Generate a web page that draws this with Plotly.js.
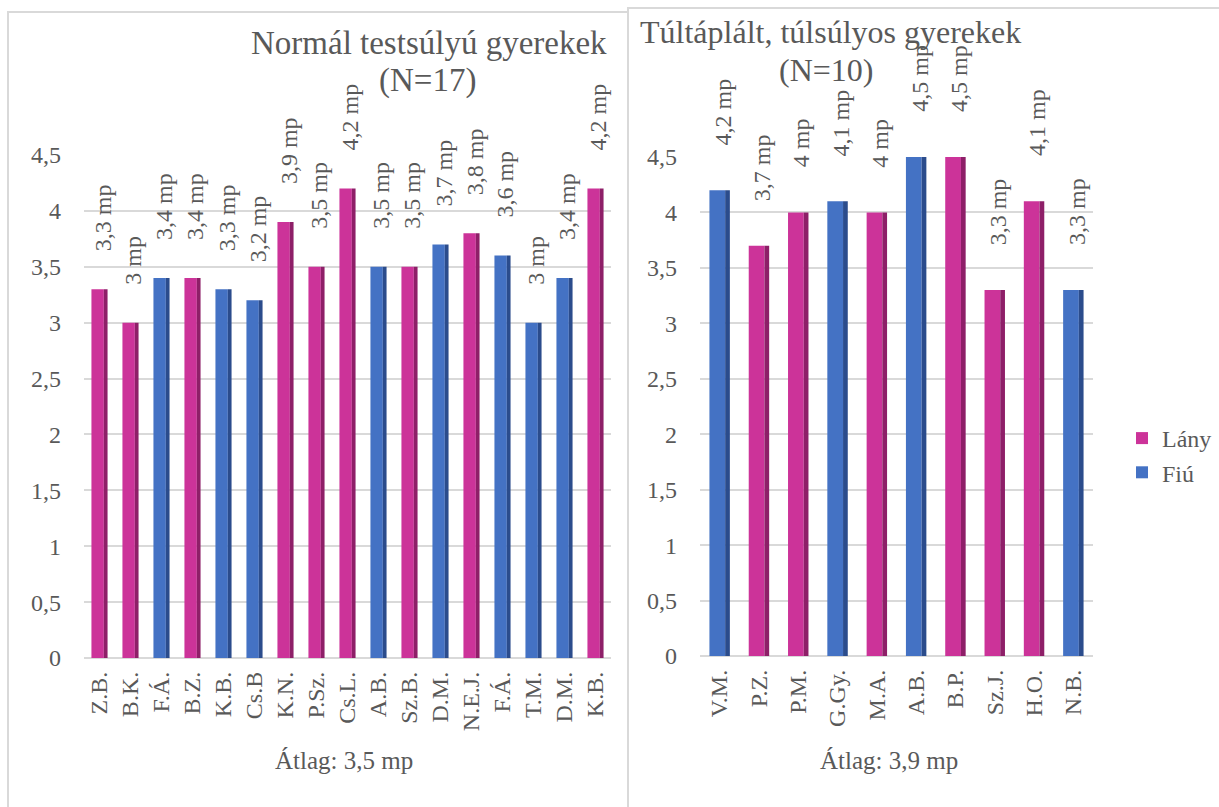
<!DOCTYPE html>
<html>
<head>
<meta charset="utf-8">
<script src="https://cdn.plot.ly/plotly-3.0.1.min.js"></script>
<style>html,body{margin:0;padding:0;background:#fff;}#chart{width:1219px;height:807px;}</style>
</head>
<body>
<div id="chart"></div>
<script>
const leftNames = ['Z.B.','B.K.','F.Á.','B.Z.','K.B.','Cs.B','K.N.','P.Sz.','Cs.L.','A.B.','Sz.B.','D.M.','N.E.J.','F.Á.','T.M.','D.M.','K.B.'];
const leftValues = [3.3,3.0,3.4,3.4,3.3,3.2,3.9,3.5,4.2,3.5,3.5,3.7,3.8,3.6,3.0,3.4,4.2];
const leftGender = ['Lány','Lány','Fiú','Lány','Fiú','Fiú','Lány','Lány','Lány','Fiú','Lány','Fiú','Lány','Fiú','Fiú','Fiú','Lány'];

const rightNames = ['V.M.','P.Z.','P.M.','G.Gy.','M.A.','A.B.','B.P.','Sz.J.','H.O.','N.B.'];
const rightValues = [4.2,3.7,4.0,4.1,4.0,4.5,4.5,3.3,4.1,3.3];
const rightGender = ['Fiú','Lány','Lány','Fiú','Lány','Fiú','Lány','Lány','Lány','Fiú'];

const leftTitle = ['Normál testsúlyú gyerekek', '(N=17)'];
const rightTitle = ['Túltáplált, túlsúlyos gyerekek', '(N=10)'];
const leftAvg = 'Átlag: 3,5 mp';
const rightAvg = 'Átlag: 3,9 mp';
const genders = ['Lány','Fiú'];

const FONT = 'Liberation Serif';
const GRAY = '#595959';
const front = {'Lány':'#CC3399','Fiú':'#4472C4'};
const side = {'Lány':'#8E1F68','Fiú':'#2B4C8C'};

const traces = [];
function addPanel(names, values, gender, xa, ya, showLegend) {
  genders.forEach(g => {
    const xs = [], ys = [];
    values.forEach((v, i) => { if (gender[i] === g) { xs.push(i); ys.push(v); } });
    traces.push({type:'bar', x:xs, y:ys, xaxis:xa, yaxis:ya, name:g, legendgroup:g,
      showlegend:showLegend, width:0.4, offset:-0.26, marker:{color:front[g]}, hoverinfo:'y'});
    traces.push({type:'bar', x:xs, y:ys, xaxis:xa, yaxis:ya, name:g, legendgroup:g,
      showlegend:false, width:0.12, offset:0.14, marker:{color:side[g]}, hoverinfo:'skip'});
  });
}
addPanel(leftNames, leftValues, leftGender, 'x', 'y', true);
addPanel(rightNames, rightValues, rightGender, 'x2', 'y2', false);

const fmt = v => String(v).replace('.', ',') + ' mp';
const annotations = [];
leftValues.forEach((v, i) => annotations.push({x:i, y:v, xref:'x', yref:'y', text:fmt(v), textangle:-90,
  showarrow:false, yanchor:'bottom', xanchor:'center', yshift:36, xshift:3, font:{family:FONT, size:24, color:GRAY}}));
rightValues.forEach((v, i) => annotations.push({x:i, y:v, xref:'x2', yref:'y2', text:fmt(v), textangle:-90,
  showarrow:false, yanchor:'bottom', xanchor:'center', yshift:43, xshift:3, font:{family:FONT, size:24, color:GRAY}}));

function titleLine(text, cx, top, size) {
  annotations.push({xref:'paper', yref:'paper', x:cx/1219, y:1-top/807, yanchor:'top', xanchor:'center',
    showarrow:false, text:text, font:{family:FONT, size:size, color:GRAY}});
}
titleLine(leftTitle[0], 429, 23, 33);
titleLine(leftTitle[1], 427, 60, 33);
titleLine(rightTitle[0], 830, 12, 32);
titleLine(rightTitle[1], 826, 50, 32);

annotations.push({xref:'paper', yref:'paper', x:344/1219, y:1-760/807, yanchor:'middle', xanchor:'center', showarrow:false,
  text:leftAvg, font:{family:FONT, size:25, color:GRAY}});
annotations.push({xref:'paper', yref:'paper', x:889/1219, y:1-760/807, yanchor:'middle', xanchor:'center', showarrow:false,
  text:rightAvg, font:{family:FONT, size:25, color:GRAY}});

const yBase = {range:[0,4.5], dtick:0.5, tick0:0, showgrid:true, gridcolor:'#D9D9D9', gridwidth:2,
  zeroline:true, zerolinecolor:'#D9D9D9', zerolinewidth:2, showline:false, ticks:'',
  ticklabelstandoff:22, tickfont:{family:FONT, size:24, color:GRAY}, fixedrange:true};
const xBase = {showgrid:false, zeroline:false, showline:false, tickangle:-90, ticks:'',
  ticklabelstandoff:8, tickfont:{family:FONT, size:24, color:GRAY}, fixedrange:true};

const layout = {
  width:1219, height:807, margin:{l:0, r:0, t:0, b:0, autoexpand:false}, paper_bgcolor:'#fff', plot_bgcolor:'rgba(0,0,0,0)',
  separators:', ', barmode:'overlay', font:{family:FONT, color:GRAY},
  xaxis: Object.assign({}, xBase, {domain:[84/1219, 611/1219], anchor:'y', range:[-0.5, leftNames.length-0.5],
    tickvals:leftNames.map((n,i)=>i), ticktext:leftNames}),
  yaxis: Object.assign({}, yBase, {domain:[1-658/807, 1-155/807], anchor:'x'}),
  xaxis2: Object.assign({}, xBase, {domain:[700/1219, 1093/1219], anchor:'y2', range:[-0.5, rightNames.length-0.5],
    tickvals:rightNames.map((n,i)=>i), ticktext:rightNames}),
  yaxis2: Object.assign({}, yBase, {domain:[1-656/807, 1-157/807], anchor:'x2'}),
  legend:{xref:'container', yref:'container', x:1122/1219, y:1-416/807, xanchor:'left', yanchor:'top',
    traceorder:'normal', tracegroupgap:30,
    font:{family:FONT, size:24, color:GRAY}, bgcolor:'rgba(0,0,0,0)', itemwidth:30},
  shapes:[
    {type:'rect', xref:'paper', yref:'paper', x0:8/1219, x1:628/1219, y0:-0.05, y1:1-12/807, line:{color:'#D9D9D9', width:2}, layer:'below'},
    {type:'rect', xref:'paper', yref:'paper', x0:628/1219, x1:1.05, y0:-0.05, y1:1-8/807, line:{color:'#D9D9D9', width:2}, layer:'below'}
  ],
  annotations:annotations,
  showlegend:true
};

Plotly.newPlot('chart', traces, layout, {staticPlot:true, displayModeBar:false});
</script>
</body>
</html>
